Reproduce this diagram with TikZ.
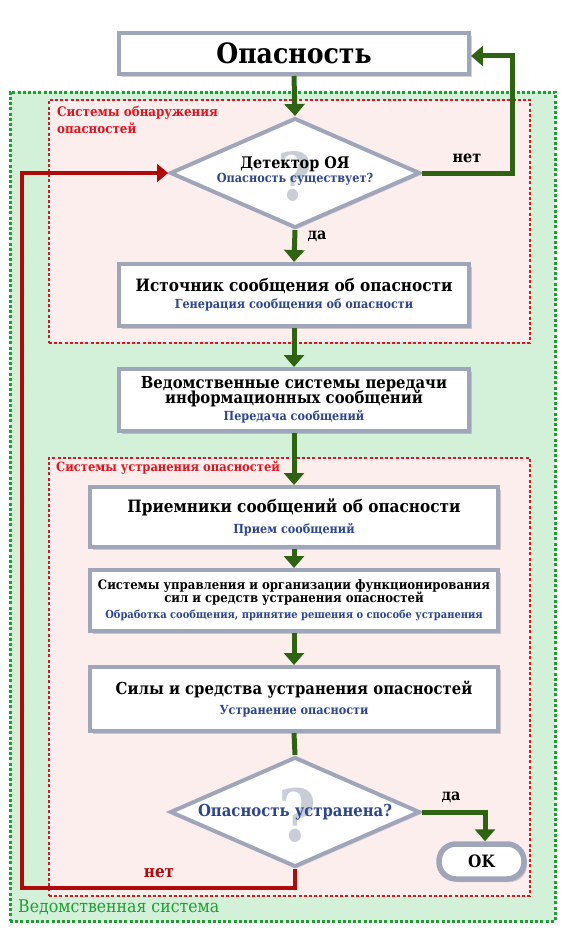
\documentclass[tikz,border=0pt]{standalone}
\usepackage{fontspec}
\setmainfont{DejaVu Serif Condensed}
\usetikzlibrary{arrows.meta,shapes.geometric,shadows}
\definecolor{boxline}{HTML}{A0A6BA}
\definecolor{agreen}{HTML}{2E6411}
\definecolor{lred}{HTML}{AE0A0A}
\definecolor{tblue}{HTML}{2B4590}
\definecolor{labred}{HTML}{E0141E}
\definecolor{labgreen}{HTML}{1E9E32}
\definecolor{outfill}{HTML}{D3F1D9}
\definecolor{infill}{HTML}{FDEEEE}
\definecolor{qgray}{HTML}{C9CDD6}
\newcommand{\fs}[1]{\fontsize{#1}{#1}\selectfont}
\begin{document}
\begin{tikzpicture}[x=1pt,y=-1pt,
  box/.style={draw=boxline, line width=4pt, fill=white, align=center, inner sep=0pt,
    drop shadow={shadow xshift=3pt, shadow yshift=-3pt, opacity=0.3, fill=black!60}},
  dia/.style={diamond, draw=boxline, line width=4pt, fill=white, inner sep=0pt,
    minimum width=250pt, minimum height=110pt,
    drop shadow={shadow xshift=2pt, shadow yshift=-2pt, opacity=0.2, fill=black!60}},
  garrow/.style={draw=agreen, line width=5pt, -{Triangle[width=20pt,length=12pt]}},
  gline/.style={draw=agreen, line width=5pt},
  rarrow/.style={draw=lred, line width=4pt, -{Triangle[width=18pt,length=11pt]}},
  qmark/.style={font=\bfseries\fs{66}, text=qgray}
]
\useasboundingbox (0,0) rectangle (564,934);
% background regions
\node[draw=labgreen, line width=3pt, dash pattern=on 3pt off 2.2pt, fill=outfill,
  minimum width=545pt, minimum height=829pt, inner sep=0pt] (outer) at (282.5,506.5) {};
\node[draw=labred, line width=2.6pt, dash pattern=on 3pt off 2.2pt, fill=infill,
  minimum width=481pt, minimum height=243pt, inner sep=0pt] (det) at (289.5,221.5) {};
\node[draw=labred, line width=2.6pt, dash pattern=on 3pt off 2.2pt, fill=infill,
  minimum width=481pt, minimum height=438pt, inner sep=0pt] (elim) at (289.5,677) {};
\node[anchor=north west, align=left, inner sep=0pt, text=labred, font=\bfseries\fs{13.2}]
  (detlab) at (57,106) {Системы обнаружения\\[2pt]опасностей};
\node[anchor=north west, inner sep=0pt, text=labred, font=\bfseries\fs{12.8}]
  (elimlab) at (56,461) {Системы устранения опасностей};
\node[anchor=west, inner sep=0pt, text=labgreen, font=\fs{17.5}]
  (outlab) at (18,907) {Ведомственная система};

% boxes
\node[box, minimum width=350pt, minimum height=41pt] (top) at (294,53.5)
  {\bfseries\fs{28}Опасность};
\node[dia] (d1) at (295,173) {};
\node[qmark] (q1) at (295,176) {?};
\node[align=center, inner sep=0pt] (d1t) at (295,171)
  {{\bfseries\fs{16}Детектор ОЯ}\\[0pt]{\bfseries\fs{12.5}\color{tblue}Опасность существует?}};
\node[box, minimum width=350pt, minimum height=62pt] (b2) at (294,295)
  {{\bfseries\fs{17}Источник сообщения об опасности}\\[4pt]
   {\bfseries\fs{12.5}\color{tblue}Генерация сообщения об опасности}};
\node[box, minimum width=350pt, minimum height=62pt] (b3) at (294,400)
  {{\bfseries\fs{16.5}Ведомственные системы передачи}\\[-3pt]
   {\bfseries\fs{16.5}информационных сообщений}\\[3pt]
   {\bfseries\fs{12.5}\color{tblue}Передача сообщений}};
\node[box, minimum width=408pt, minimum height=60pt] (b4) at (294,517)
  {{\bfseries\fs{17}Приемники сообщений об опасности}\\[6pt]
   {\bfseries\fs{12.5}\color{tblue}Прием сообщений}};
\node[box, minimum width=408pt, minimum height=61pt] (b5) at (294,600.5)
  {{\bfseries\fs{13}Системы управления и организации функционирования}\\[-1pt]
   {\bfseries\fs{13}сил и средств устранения опасностей}\\[4pt]
   {\bfseries\fs{11}\color{tblue}Обработка сообщения, принятие решения о способе устранения}};
\node[box, minimum width=408pt, minimum height=64pt] (b6) at (294,699)
  {{\bfseries\fs{16.5}Силы и средства устранения опасностей}\\[6pt]
   {\bfseries\fs{12.5}\color{tblue}Устранение опасности}};
\node[dia] (d2) at (295,812) {};
\node[qmark, font=\bfseries\fs{72}] (q2) at (297,815) {?};
\node[inner sep=0pt, text=tblue, font=\bfseries\fs{16.5}] (d2t) at (295,812) {Опасность устранена?};
\node[draw=boxline, line width=5.5pt, fill=white, rounded corners=17pt,
  minimum width=85pt, minimum height=35pt, inner sep=0pt, font=\bfseries\fs{17},
  drop shadow={shadow xshift=3pt, shadow yshift=-3pt, opacity=0.3, fill=black!60}]
  (ok) at (481.5,861.5) {OK};

% connectors
\draw[garrow] (top.south) -- (d1.north);
\coordinate (rt) at (512,56);
\draw[garrow] (d1.east) -| (rt) -- (top.east |- rt);
\node[inner sep=0pt, font=\bfseries\fs{16}] (net1) at (467,158) {нет};
\draw[garrow] (d1.south) -- (b2.north);
\node[inner sep=0pt, font=\bfseries\fs{16}] (da1) at (317,236) {да};
\draw[garrow] (b2.south) -- (b3.north);
\draw[garrow] (b3.south) -- (b4.north);
\draw[garrow] (b4.south) -- (b5.north);
\draw[garrow] (b5.south) -- (b6.north);
\draw[gline] (b6.south) -- (d2.north);
\coordinate (okx) at (485,812);
\draw[garrow] (d2.east) -- (okx) -- (okx |- ok.north);
\node[inner sep=0pt, font=\bfseries\fs{16}] (da2) at (451,797) {да};
\coordinate (lb) at (22,888);
\draw[rarrow] (d2.south) |- (lb) |- (d1.west);
\node[inner sep=0pt, text=lred, font=\bfseries\fs{17}] (net2) at (159,873) {нет};
\end{tikzpicture}
\end{document}
